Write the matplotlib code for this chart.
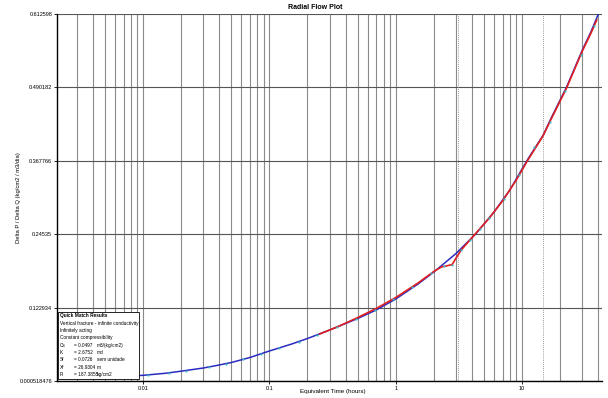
import matplotlib
matplotlib.use("Agg")
import matplotlib.pyplot as plt
from matplotlib.patches import Rectangle
from matplotlib.ticker import FixedLocator, NullFormatter

W, H = 608, 398

# model curve (blue)
model_t = [0.003, 0.005, 0.007, 0.01, 0.015, 0.02, 0.03, 0.04, 0.05, 0.07,
           0.1, 0.15, 0.2, 0.3, 0.4, 0.5, 0.7, 1.0, 1.5, 2.0, 3.0, 4.29, 6.0,
           8.0, 11.0, 14.7, 17.0, 22.5, 30.0, 35.0, 40.2]
model_v = [0.0059, 0.0075, 0.0085, 0.0100, 0.0134, 0.0169, 0.0222, 0.0272,
           0.0314, 0.0397, 0.0506, 0.0622, 0.0714, 0.0856, 0.0964, 0.1048,
           0.1190, 0.1373, 0.1623, 0.1823, 0.2132, 0.2457, 0.2824, 0.3191,
           0.3691, 0.4108, 0.4392, 0.4909, 0.5526, 0.5826, 0.6127]

# measured data line (red)
data_t = [0.25, 0.35, 0.5, 0.7, 1.0, 1.5, 2.0, 2.3, 2.5, 2.8, 3.0, 3.3, 3.8,
          4.5, 5.5, 7.0, 9.0, 11.0, 14.7, 17.0, 22.5, 30.0, 35.0, 39.0]
data_v = [0.0789, 0.0914, 0.1064, 0.1215, 0.1398, 0.1640, 0.1832, 0.1907,
          0.1923, 0.1948, 0.2057, 0.2190, 0.2340, 0.2516, 0.2724, 0.3008,
          0.3358, 0.3675, 0.4100, 0.4375, 0.4892, 0.5510, 0.5801, 0.6027]

# data points (cyan)
pts_t = [0.011, 0.016, 0.022, 0.033, 0.045, 0.062, 0.085, 0.12, 0.17, 0.24,
         0.34, 0.48, 0.68, 0.95, 1.35, 1.9, 2.4, 2.8, 3.3, 3.9, 4.6, 5.5,
         7.2, 9.5, 12.5, 16.5, 22.0, 29.0, 37.0]
pts_v = [0.0107, 0.0140, 0.0180, 0.0237, 0.0293, 0.0368, 0.0455, 0.0555,
         0.0660, 0.0775, 0.0905, 0.1035, 0.1195, 0.1365, 0.1570, 0.1800,
         0.1915, 0.1948, 0.2190, 0.2360, 0.2535, 0.2724, 0.3040, 0.3440,
         0.3900, 0.4330, 0.4850, 0.5450, 0.5930]

y_ticks = [0.000518476, 0.122934, 0.24535, 0.367766, 0.490182, 0.612598]
y_labels = ["0.000518476", "0.122934", "0.24535", "0.367766", "0.490182",
            "0.612598"]
x_ticks = [0.01, 0.1, 1, 10]
x_labels = ["0.01", "0.1", "1", "10"]
markers_t = [3.1, 14.7]

box_lines = [
    ("Cs", "= 0.0497", "m3/(kg/cm2)"),
    ("K", "= 2.6752", "md"),
    ("Sf", "= 0.0726", "sem unidade"),
    ("Xf", "= 26.9304", "m"),
    ("Pi", "= 187.3855", "kg/cm2"),
]
box_head = ["Vertical fracture - infinite conductivity", "Infinitely acting",
            "Constant compressibility"]

plt.rcParams["font.family"] = ["Liberation Sans", "DejaVu Sans"]

fig = plt.figure(figsize=(W / 100, H / 100), dpi=100)
ax = fig.add_axes([57 / W, 1 - 381 / H, (602 - 57) / W, (381 - 14) / H])

ax.set_xscale("log")
ax.set_xlim(0.00208, 42.9)
ax.set_ylim(y_ticks[0], y_ticks[-1])

minor = [m * 10.0 ** e for e in range(-3, 2) for m in range(2, 10)]
ax.xaxis.set_minor_locator(FixedLocator(minor))
ax.xaxis.set_minor_formatter(NullFormatter())
ax.set_xticks(x_ticks)
ax.set_xticklabels(x_labels)
ax.set_yticks(y_ticks)
ax.set_yticklabels(y_labels)

ax.grid(True, which="both", axis="x", color="#8a8a8a", lw=0.8)
ax.grid(True, which="major", axis="y", color="#555555", lw=0.8)
for t in markers_t:
    ax.axvline(t, color="#777777", lw=0.6, ls=(0, (1, 1.5)))

ax.tick_params(axis="both", which="major", labelsize=4, length=2,
               width=0.6, pad=1.5)
ax.tick_params(axis="x", which="minor", length=0)
for s in ("top", "right"):
    ax.spines[s].set_visible(False)
ax.spines["left"].set_linewidth(1.0)
ax.spines["bottom"].set_linewidth(1.0)

ax.plot(model_t, model_v, color="#2a2ac0", lw=1.1, zorder=3)
ax.plot(data_t, data_v, color="#e02020", lw=1.2, zorder=4)
ax.plot(pts_t, pts_v, ls="none", marker="o", ms=1.6, mew=0,
        color="#40b8c8", zorder=5)

ax.set_xlabel("Equivalent Time (hours)", fontsize=4.5, va="center")
ax.xaxis.set_label_coords((333 - 57) / 545, (381 - 392) / 367)
ax.set_ylabel("Delta P / Delta Q (kg/cm2 / m3/dia)", fontsize=4.2,
              va="center")
ax.yaxis.set_label_coords((19 - 57) / 545, 0.5)
fig.text(315 / W, 1 - 7.5 / H, "Radial Flow Plot", fontsize=5,
         fontweight="bold", ha="center", va="center")

# quick match box
fig.patches.append(Rectangle((58 / W, 1 - 379 / H), 81 / W, 67 / H,
                             transform=fig.transFigure, facecolor="white",
                             edgecolor="black", lw=0.6, zorder=6))
fs = 3.4
y = 316
fig.text(60 / W, 1 - y / H, "Quick Match Results", fontsize=fs,
         fontweight="bold", va="center", zorder=7)
for line in box_head:
    y += 7.3
    fig.text(60 / W, 1 - y / H, line, fontsize=fs, va="center", zorder=7)
for name, val, unit in box_lines:
    y += 7.3
    fig.text(60 / W, 1 - y / H, name, fontsize=fs, va="center", zorder=7)
    fig.text(74 / W, 1 - y / H, val, fontsize=fs, va="center", zorder=7)
    fig.text(97 / W, 1 - y / H, unit, fontsize=fs, va="center", zorder=7)

fig.savefig("out.png", dpi=100)
